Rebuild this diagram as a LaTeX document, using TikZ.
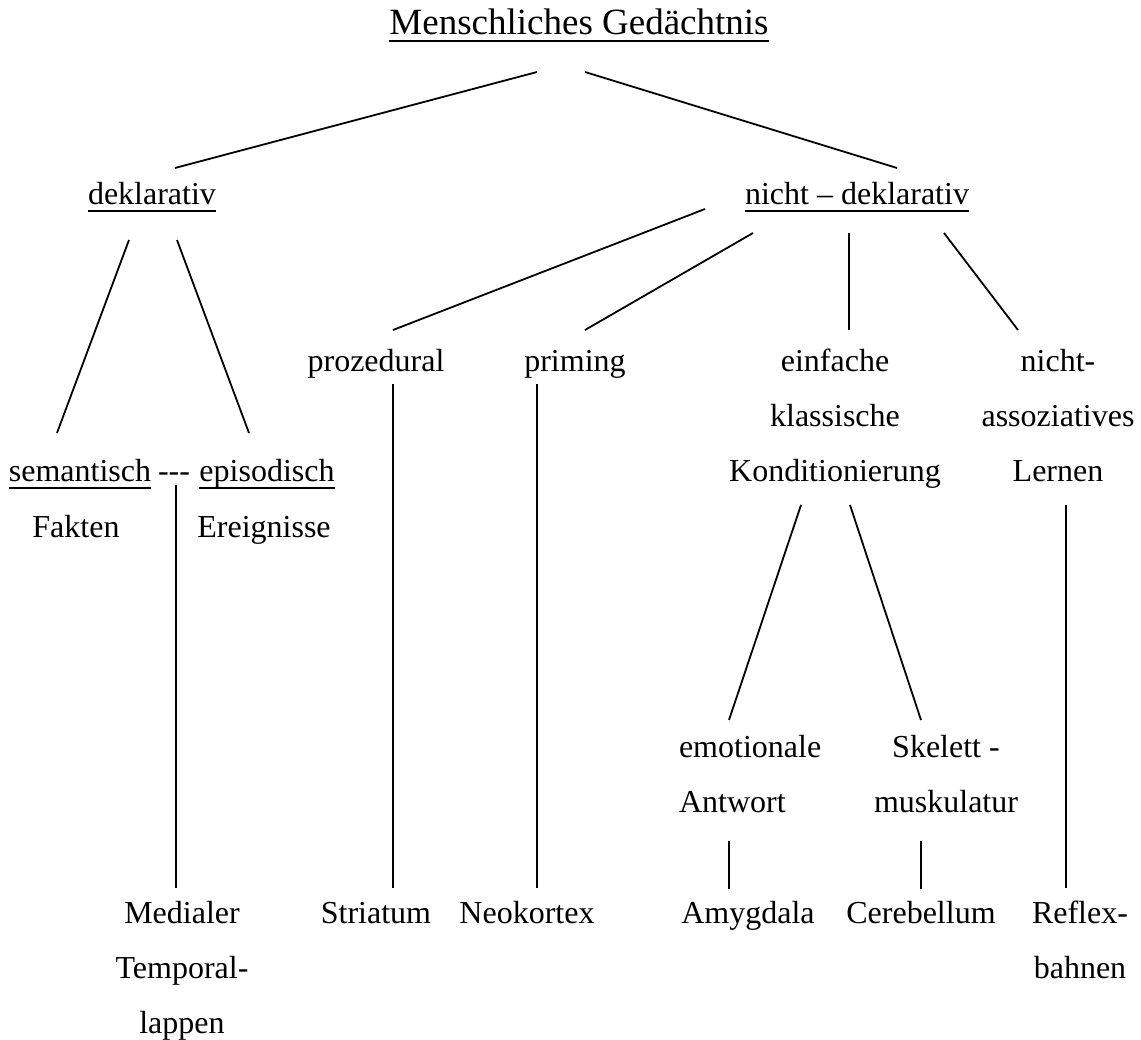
\documentclass[tikz,border=0pt]{standalone}
\usepackage{fontspec}
\setmainfont{Liberation Serif}
\usetikzlibrary{calc}
\newcommand{\myul}[1]{\setbox0\hbox{#1}\rlap{\rule[-7.5pt]{\wd0}{2.4pt}}\box0}
\newcommand{\mlc}[1]{\begin{tabular}[t]{@{}c@{}}#1\end{tabular}}
\newcommand{\mll}[1]{\begin{tabular}[t]{@{}l@{}}#1\end{tabular}}
\begin{document}
\begin{tikzpicture}[x=1pt,y=-1pt,
  lbl/.style={inner sep=0pt,outer sep=0pt,anchor=base,font=\fontsize{32}{55}\selectfont},
  conn/.style={line width=1.8pt}]
\useasboundingbox (0,0) rectangle (1141,1040);
% nodes
\node[lbl,font=\fontsize{37}{44}\selectfont] (title) at (579,35) {\myul{Menschliches Gedächtnis}};
\node[lbl] (dekl) at (152,205) {\myul{deklarativ}};
\node[lbl] (ndekl) at (857,205) {\myul{nicht \textendash\ deklarativ}};
\node[lbl] (proz) at (376,372) {prozedural};
\node[lbl] (prim) at (575,372) {priming};
\node[lbl] (kond) at (835,372) {\mlc{einfache\\klassische\\Konditionierung}};
\node[lbl] (nassoz) at (1058,372) {\mlc{nicht-\\assoziatives\\Lernen}};
\node[lbl] (sem) at (80,482) {\myul{semantisch}};
\node[lbl] (dash) at (174,482) {-{}-{}-};
\node[lbl] (epi) at (267,482) {\myul{episodisch}};
\node[lbl] (fakt) at (76,537) {Fakten};
\node[lbl] (ereig) at (264,537) {Ereignisse};
\node[lbl,anchor=base west] (emo) at (679,757) {\mll{emotionale\\Antwort}};
\node[lbl] (skel) at (946,757) {\mlc{Skelett -\\muskulatur}};
\node[lbl] (med) at (182,923) {\mlc{Medialer\\Temporal-\\lappen}};
\node[lbl] (stri) at (376,923) {Striatum};
\node[lbl] (neo) at (527,923) {Neokortex};
\node[lbl] (amy) at (748,923) {Amygdala};
\node[lbl] (cere) at (921,923) {Cerebellum};
\node[lbl] (refl) at (1080,923) {\mlc{Reflex-\\bahnen}};
% connectors
\draw[conn] ($(title.base)+(-42,37)$) -- ($(dekl.base)+(23,-37)$);
\draw[conn] ($(title.base)+(6,37)$) -- ($(ndekl.base)+(40,-37)$);
\draw[conn] ($(dekl.base)+(-23,35)$) -- ($(sem.base)+(-23,-49)$);
\draw[conn] ($(dekl.base)+(25,35)$) -- ($(epi.base)+(-18,-49)$);
\draw[conn] ($(dash.base)+(2,3)$) -- ($(med.base)+(-6,-35)$);
\draw[conn] ($(ndekl.base)+(-152,4)$) -- ($(proz.base)+(17,-42)$);
\draw[conn] ($(ndekl.base)+(-104,28)$) -- ($(prim.base)+(10,-42)$);
\draw[conn] ($(ndekl.base)+(-8,28)$) -- ($(kond.base)+(14,-42)$);
\draw[conn] ($(ndekl.base)+(87,28)$) -- ($(nassoz.base)+(-40,-42)$);
\draw[conn] ($(proz.base)+(17,12)$) -- ($(stri.base)+(17,-35)$);
\draw[conn] ($(prim.base)+(-38,12)$) -- ($(neo.base)+(10,-35)$);
\draw[conn] ($(kond.base)+(-34,133)$) -- ($(emo.base west)+(50,-37)$);
\draw[conn] ($(kond.base)+(15,133)$) -- ($(skel.base)+(-25,-37)$);
\draw[conn] ($(emo.base west)+(50,84)$) -- ($(amy.base)+(-19,-34)$);
\draw[conn] ($(skel.base)+(-25,84)$) -- ($(cere.base)+(0,-34)$);
\draw[conn] ($(nassoz.base)+(8,133)$) -- ($(refl.base)+(-14,-35)$);
\end{tikzpicture}
\end{document}
